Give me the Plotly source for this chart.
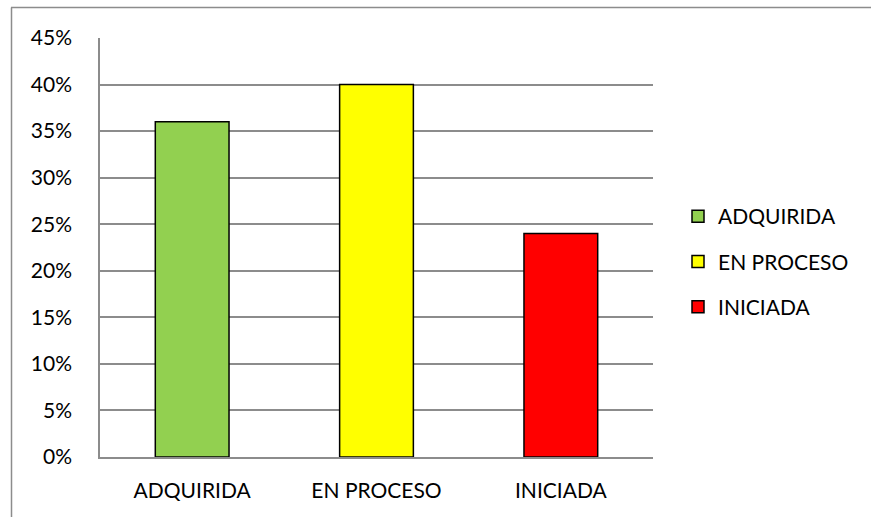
import plotly.graph_objects as go

categories = ["ADQUIRIDA", "EN PROCESO", "INICIADA"]
values = [0.36, 0.40, 0.24]
colors = ["#92D050", "#FFFF00", "#FF0000"]
tick_vals = [0, 0.05, 0.10, 0.15, 0.20, 0.25, 0.30, 0.35, 0.40, 0.45]
tick_text = ["0%", "5%", "10%", "15%", "20%", "25%", "30%", "35%", "40%", "45%"]

W, H = 871, 517
L, R, T, B = 100, 218, 38, 60
pw = W - L - R
ph = H - T - B

fig = go.Figure()
for cat, val, col in zip(categories, values, colors):
    fig.add_trace(go.Bar(
        x=[cat], y=[val], name=cat, width=0.4,
        marker=dict(color=col, line=dict(color="#000000", width=1.5)),
        legendgroup=cat,
    ))

font = dict(family="Lato, Calibri, Carlito, sans-serif", size=21, color="#000000")

def px_x(p):
    return (p - L) / pw

def px_y(p):
    return (H - B - p) / ph

fig.update_layout(
    width=W, height=H,
    margin=dict(l=L, r=R, t=T, b=B),
    paper_bgcolor="white", plot_bgcolor="white",
    barmode="overlay",
    font=font,
    showlegend=True,
    legend=dict(x=px_x(678), y=px_y(196), xanchor="left", yanchor="top",
                font=font, tracegroupgap=15, bgcolor="rgba(0,0,0,0)"),
    xaxis=dict(categoryorder="array", categoryarray=categories,
               showline=True, linecolor="#8c8c8c", linewidth=1.5,
               showgrid=False, ticks="", ticklabelstandoff=14,
               tickfont=font),
    yaxis=dict(range=[0, 0.45], tickvals=tick_vals, ticktext=tick_text,
               showgrid=True, gridcolor="#8c8c8c", gridwidth=1.5,
               showline=True, linecolor="#8c8c8c", linewidth=1.5,
               ticks="", ticklabelstandoff=22, zeroline=False,
               tickfont=font),
    shapes=[
        dict(type="line", xref="paper", yref="paper",
             x0=px_x(11), x1=px_x(W + 5), y0=px_y(7.5), y1=px_y(7.5),
             line=dict(color="#8c8c8c", width=1.5)),
        dict(type="line", xref="paper", yref="paper",
             x0=px_x(11.5), x1=px_x(11.5), y0=px_y(7.5), y1=px_y(H + 5),
             line=dict(color="#8c8c8c", width=1.5)),
    ],
)

fig.write_html("out.html", config={"displayModeBar": False},
               post_script="document.body.style.margin='0';")
